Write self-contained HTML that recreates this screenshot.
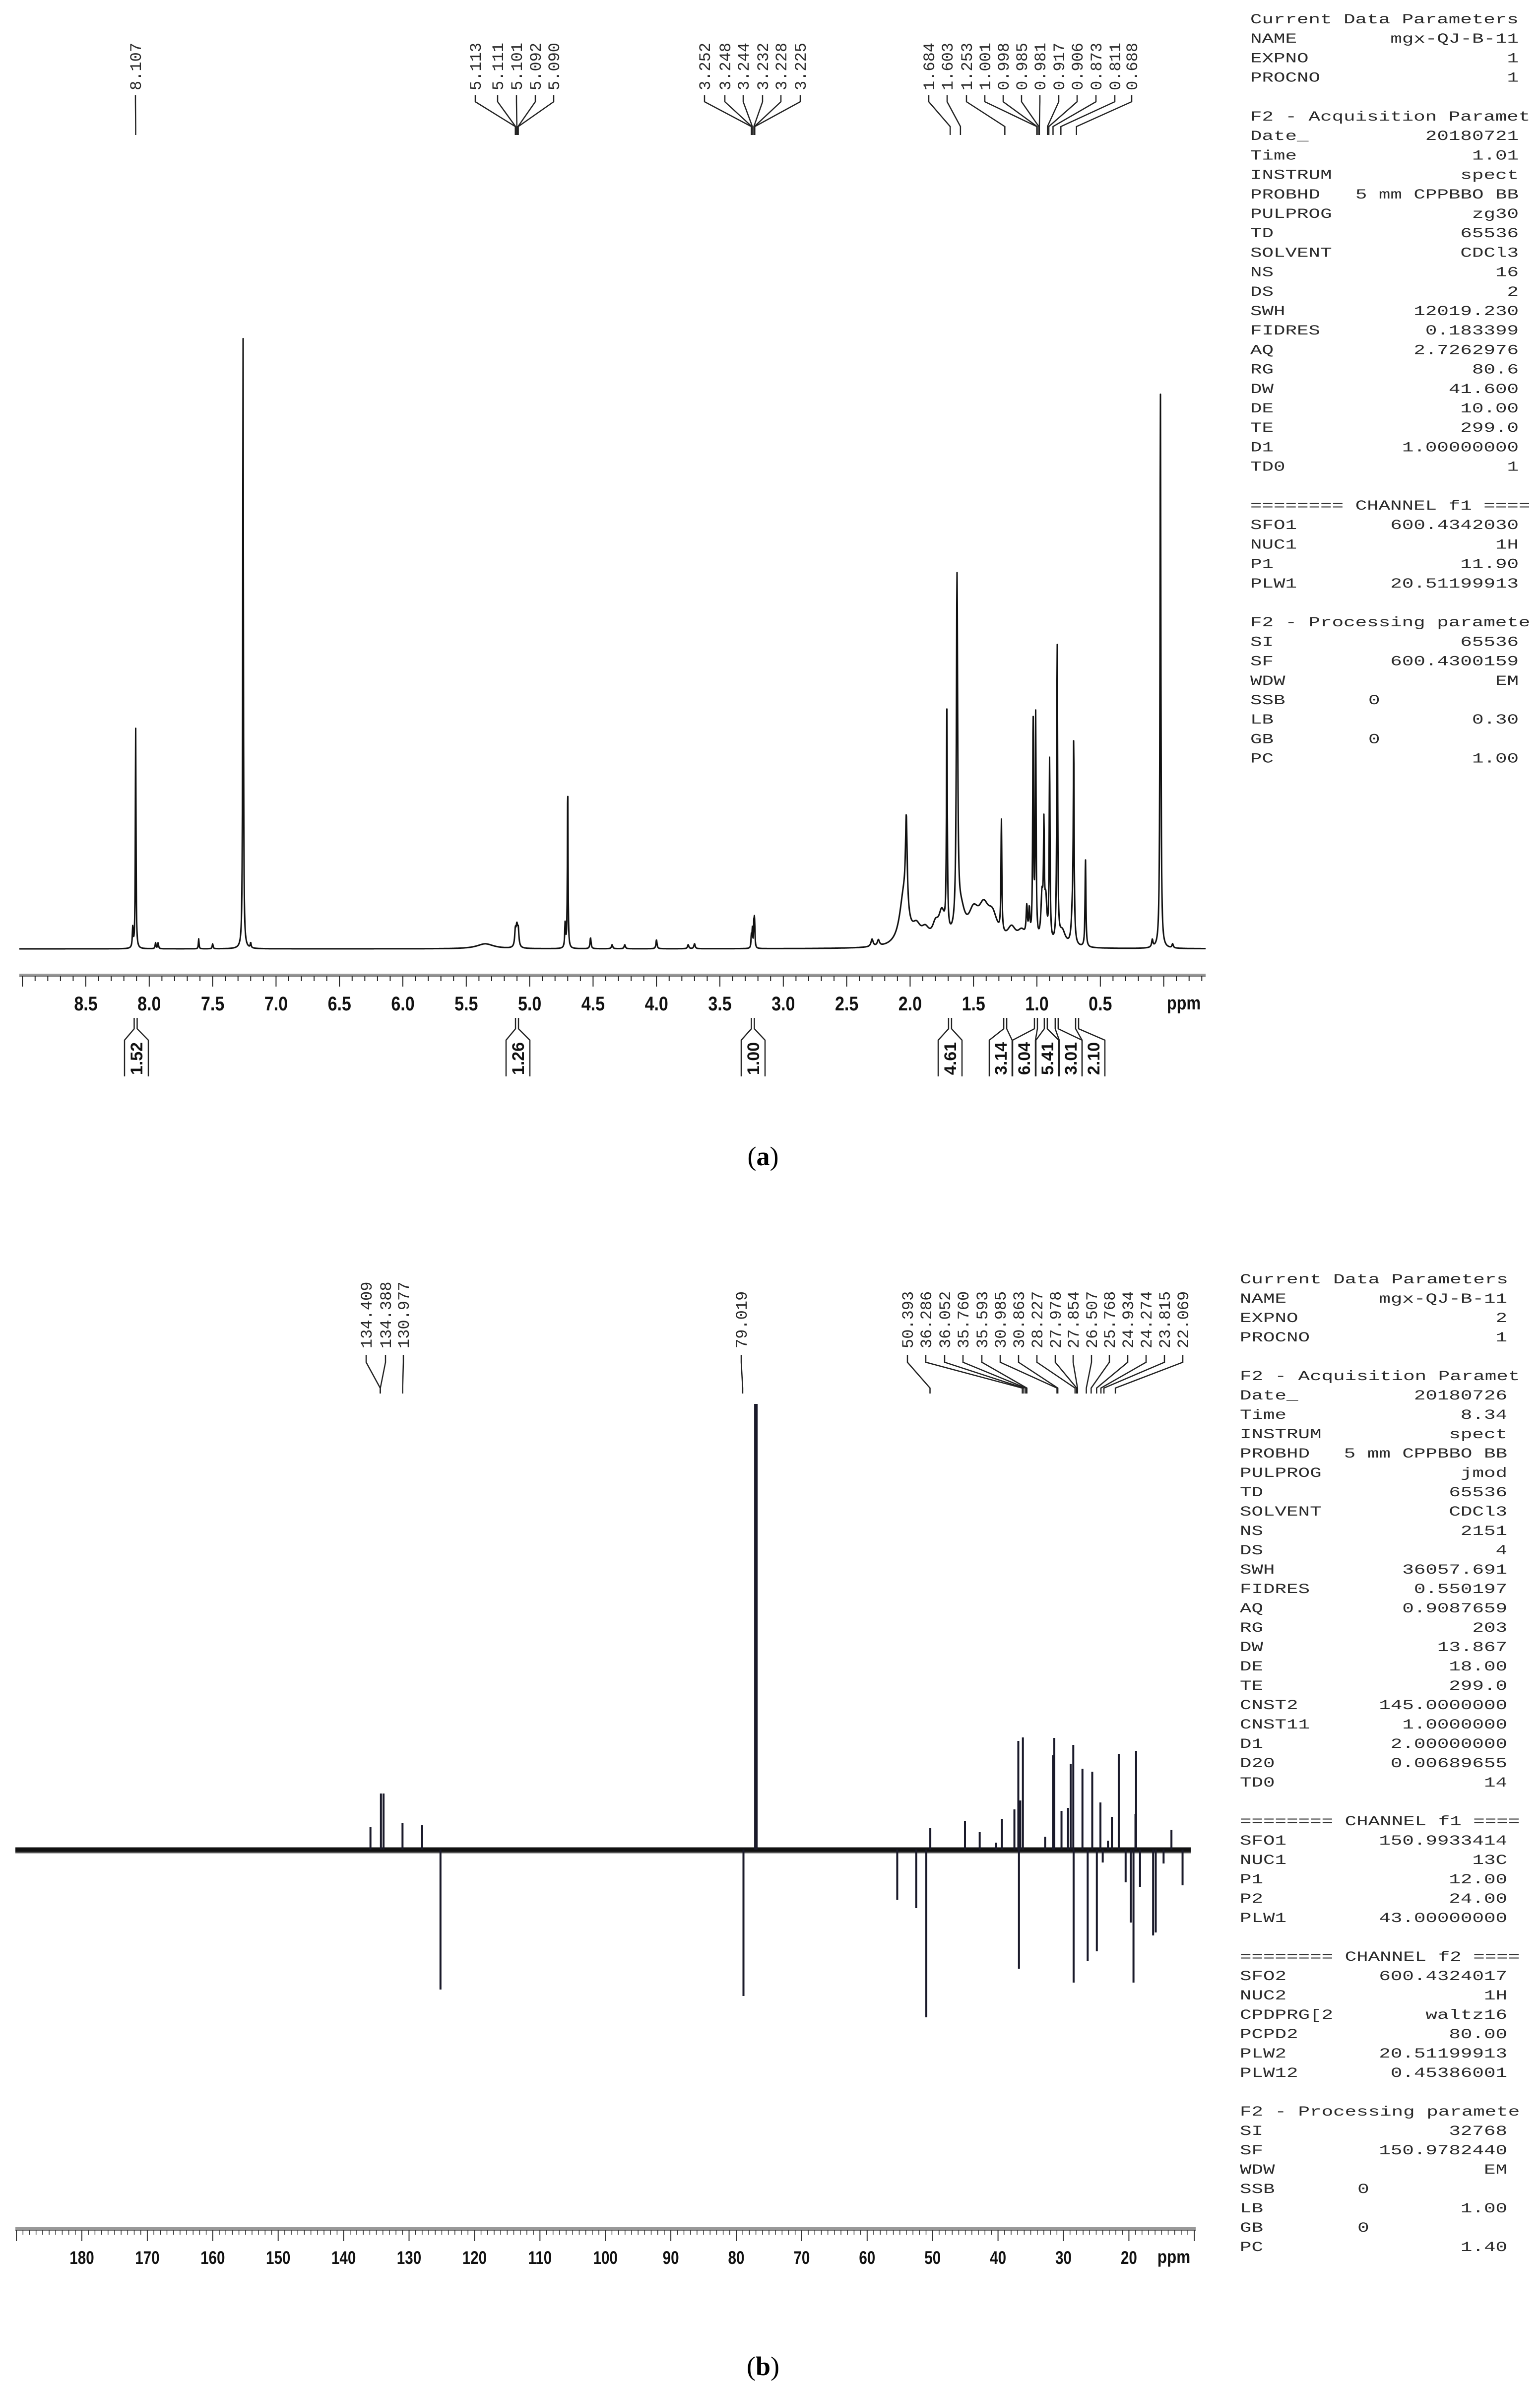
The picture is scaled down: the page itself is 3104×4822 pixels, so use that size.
<!DOCTYPE html>
<html><head><meta charset="utf-8">
<style>
html,body{margin:0;padding:0;background:#fff;}
svg{display:block;}
.mono{font-family:"Liberation Mono",monospace;fill:#2a2a2a;}
.tick{font-family:"Liberation Sans",sans-serif;font-weight:bold;fill:#111;}
</style></head>
<body>
<svg id="fig" xmlns="http://www.w3.org/2000/svg" width="3104" height="4822" viewBox="0 0 3104 4822">
<rect width="3104" height="4822" fill="#fff"/>
<g id="panelA"></g>
<g id="panelB"></g>
<text x="1538" y="2348" text-anchor="middle" font-family="Liberation Serif, serif" font-size="54" fill="#000">(<tspan font-weight="bold">a</tspan>)</text>
<text x="1538" y="4786" text-anchor="middle" font-family="Liberation Serif, serif" font-size="54" fill="#000">(<tspan font-weight="bold">b</tspan>)</text>
</svg>
<script>
// ---------- Panel A data (1H NMR) ----------
const hPeakPpm = [8.130,8.107,7.95,7.93,7.61,7.50,7.26,7.20,5.35,5.113,5.101,5.09,4.72,4.70,4.52,4.35,4.25,4.00,3.75,3.70,3.252,3.244,3.232,3.228,3.225,2.30,2.25,2.05,2.03,1.95,1.88,1.80,1.75,1.71,1.63,1.60,1.50,1.42,1.35,1.28,1.20,1.12,1.08,1.06,1.03,1.01,0.96,0.945,0.93,0.90,0.84,0.80,0.72,0.71,0.617,0.09,0.026,-0.07];
const hPeakHeight = [40,445,12,12,20,10,1236,10,10,30,40,30,50,330,22,8,8,18,8,10,25,38,40,38,25,15,12,100,180,30,25,30,55,440,700,60,55,60,50,226,30,25,60,55,445,450,90,207,80,365,601,30,60,387,177,15,1119,8];
const hPeakWidth = [0.004,0.003,0.004,0.004,0.003,0.004,0.003,0.004,0.08,0.006,0.008,0.006,0.004,0.003,0.005,0.006,0.006,0.005,0.006,0.006,0.003,0.003,0.003,0.003,0.003,0.01,0.01,0.04,0.008,0.04,0.04,0.03,0.03,0.004,0.006,0.04,0.05,0.05,0.05,0.004,0.04,0.04,0.006,0.006,0.004,0.004,0.01,0.004,0.01,0.004,0.004,0.03,0.01,0.004,0.004,0.006,0.004,0.006];
const hLabels = ["8.107","5.113","5.111","5.101","5.092","5.090","3.252","3.248","3.244","3.232","3.228","3.225","1.684","1.603","1.253","1.001","0.998","0.985","0.981","0.917","0.906","0.873","0.811","0.688"];
const hIntegralValues = ["1.52","1.26","1.00","4.61","3.14","6.04","5.41","3.01","2.10"];
const hIntegralPpm = [8.107,5.10,3.24,1.685,1.25,1.008,0.93,0.844,0.683];
const hTicks = [8.5,8.0,7.5,7.0,6.5,6.0,5.5,5.0,4.5,4.0,3.5,3.0,2.5,2.0,1.5,1.0,0.5];
const hTickLabels = ["8.5","8.0","7.5","7.0","6.5","6.0","5.5","5.0","4.5","4.0","3.5","3.0","2.5","2.0","1.5","1.0","0.5"];
const hParams = [["Current Data Parameters",""],["NAME","mgx-QJ-B-11"],["EXPNO","1"],["PROCNO","1"],null,["F2 - Acquisition Paramet",""],["Date_","20180721"],["Time","1.01"],["INSTRUM","spect"],["PROBHD","5 mm CPPBBO BB"],["PULPROG","zg30"],["TD","65536"],["SOLVENT","CDCl3"],["NS","16"],["DS","2"],["SWH","12019.230"],["FIDRES","0.183399"],["AQ","2.7262976"],["RG","80.6"],["DW","41.600"],["DE","10.00"],["TE","299.0"],["D1","1.00000000"],["TD0","1"],null,["======== CHANNEL f1 ====",""],["SFO1","600.4342030"],["NUC1","1H"],["P1","11.90"],["PLW1","20.51199913"],null,["F2 - Processing paramete",""],["SI","65536"],["SF","600.4300159"],["WDW","EM"],["SSB","0","mid"],["LB","0.30"],["GB","0","mid"],["PC","1.00"]];

// ---------- Panel B data (13C NMR) ----------
const cPeakPpm = [135.9,134.3,133.9,131.0,128.0,125.2,78.9,77.0,55.4,52.5,50.96,50.35,45.05,42.8,40.3,39.4,37.5,36.9,36.8,36.6,36.2,32.8,31.6,31.4,30.3,29.3,28.9,28.5,28.45,27.1,26.3,25.6,24.9,24.35,24.0,23.2,22.6,21.55,20.5,19.7,19.3,19.0,18.9,18.3,16.3,15.9,14.7,13.5,11.8];
const cPeakHeight = [46,113,113,54,49,-282,-295,898,-101,-118,-338,43,58,35,14,62,81,219,-240,99,226,26,190,225,78,84,173,211,-268,163,-225,157,-205,95,-26,18,66,193,-66,-147,-268,72,199,-75,-173,-167,-28,40,-72];
const cTicks = [180,170,160,150,140,130,120,110,100,90,80,70,60,50,40,30,20];
const cTickLabels = ["180","170","160","150","140","130","120","110","100","90","80","70","60","50","40","30","20"];
const cLabels = ["134.409","134.388","130.977","79.019","50.393","36.286","36.052","35.760","35.593","30.985","30.863","28.227","27.978","27.854","26.507","25.768","24.934","24.274","23.815","22.069"];
const cParams = [["Current Data Parameters",""],["NAME","mgx-QJ-B-11"],["EXPNO","2"],["PROCNO","1"],null,["F2 - Acquisition Paramet",""],["Date_","20180726"],["Time","8.34"],["INSTRUM","spect"],["PROBHD","5 mm CPPBBO BB"],["PULPROG","jmod"],["TD","65536"],["SOLVENT","CDCl3"],["NS","2151"],["DS","4"],["SWH","36057.691"],["FIDRES","0.550197"],["AQ","0.9087659"],["RG","203"],["DW","13.867"],["DE","18.00"],["TE","299.0"],["CNST2","145.0000000"],["CNST11","1.0000000"],["D1","2.00000000"],["D20","0.00689655"],["TD0","14"],null,["======== CHANNEL f1 ====",""],["SFO1","150.9933414"],["NUC1","13C"],["P1","12.00"],["P2","24.00"],["PLW1","43.00000000"],null,["======== CHANNEL f2 ====",""],["SFO2","600.4324017"],["NUC2","1H"],["CPDPRG[2","waltz16"],["PCPD2","80.00"],["PLW2","20.51199913"],["PLW12","0.45386001"],null,["F2 - Processing paramete",""],["SI","32768"],["SF","150.9782440"],["WDW","EM"],["SSB","0","mid"],["LB","1.00"],["GB","0","mid"],["PC","1.40"]];

const NS="http://www.w3.org/2000/svg";
function mk(tag, attrs, parent){const e=document.createElementNS(NS,tag);for(const k in attrs)e.setAttribute(k,attrs[k]);parent.appendChild(e);return e;}

// axis functions
const xA = p => 173 + (8.5 - p) * 255.6;
const baseA = 1912;
const yA = h => baseA - h;
const xB = p => 165 + (180 - p) * 13.19;
const baseB = 3727;
const yB = h => baseB - h;

function drawParams(g, rows, x0, xRight, y0, pitch, name){
  const grp = mk('g',{transform:`translate(${x0},0) scale(1.4,1)`},g);
  
  
  const rEnd = (xRight - x0)/1.4;
  rows.forEach((r,i)=>{
    if(!r) return;
    const y = y0 + i*pitch;
    const t = mk('text',{x:0,y:y,class:'mono','font-size':28},grp);
    
    
    t.textContent = r[0];
    if(r[1]!==''){
      const v = mk('text',{x:r[2]==='mid'? (rEnd*0.44):rEnd,y:y,class:'mono','font-size':28,'text-anchor':r[2]==='mid'?'start':'end'},grp);
      
      
      v.textContent = r[1];
    }
  });
}

function peakLabels(g, labels, ppmFn, xFn, labelX, yTextBottom, y1, y2, y3, y4, name){
  labels.forEach((s,i)=>{
    const lx = labelX[i];
    const t = mk('text',{transform:`translate(${lx},${yTextBottom}) rotate(-90)`,x:0,y:11,class:'mono','font-size':32},g);
    
    
    t.textContent = s;
    const px = xFn(parseFloat(s));
    const p = mk('path',{d:`M${lx} ${y1} L${lx} ${y2} L${px} ${y3} L${px} ${y4}`,fill:'none',stroke:'#222','stroke-width':2.5},g);
    
    
  });
}

// ---------- Panel A ----------
(function(){
  const g = document.getElementById('panelA');
  let pts=[];
  for(let x=39;x<=2430;x+=0.5){
    const p = 8.5 - (x-173)/255.6;
    let s=0;
    for(let i=0;i<hPeakPpm.length;i++){const d=(p-hPeakPpm[i])/hPeakWidth[i];s+=hPeakHeight[i]/(1+d*d);}
    pts.push(x.toFixed(1)+','+yA(s).toFixed(1));
  }
  const sp = mk('polyline',{points:pts.join(' '),fill:'none',stroke:'#111','stroke-width':3,'stroke-linejoin':'round'},g);
  
  
  const ax = mk('g',{},g);
  
  
  mk('rect',{x:39,y:1962,width:2391,height:5,fill:'#999'},ax);
  mk('line',{x1:39,y1:1967,x2:2430,y2:1967,stroke:'#444','stroke-width':1.5},ax);
  for(let k=-3;k<=90;k++){
    const p=k/10; const x=xA(p); if(x<39||x>2430) continue;
    const major = (k%5===0);
    mk('line',{x1:x,y1:1967,x2:x,y2:major?1988:1977,stroke:'#222','stroke-width':2},ax);
  }
  hTicks.forEach((p,i)=>{
    const t=mk('text',{x:xA(p),y:2036,'text-anchor':'middle',class:'tick','font-size':40,transform:`translate(${xA(p)},0) scale(0.85,1) translate(${-xA(p)},0)`},ax);
    
    
    t.textContent=hTickLabels[i];
  });
  const u=mk('text',{x:2386,y:2034,'text-anchor':'middle',class:'tick','font-size':38,transform:'translate(2386,0) scale(0.85,1) translate(-2386,0)'},ax);
  
  
  u.textContent='ppm';
  const lx = [273, 958,1003,1041,1079,1116, 1420,1461,1498,1537,1574,1613, 1872,1909,1948,1985,2022,2059,2096,2134,2171,2209,2247,2281];
  const pl = mk('g',{},g);
  
  
  peakLabels(pl, hLabels, null, xA, lx, 182, 192, 205, 255, 272, 'peak-shift-label');
  const boxC = [275,1044,1518,1915,2017,2064,2111,2158,2204];
  const ig = mk('g',{},g);
  
  
  hIntegralValues.forEach((v,i)=>{
    const bx = boxC[i], xs = xA(hIntegralPpm[i]);
    const hw = i>=4?23:24;
    const p=mk('path',{d:`M${bx-hw} 2169 L${bx-hw} 2096 L${xs-3} 2073 L${xs-3} 2051 M${xs+3} 2051 L${xs+3} 2073 L${bx+hw} 2096 L${bx+hw} 2169`,fill:'none',stroke:'#222','stroke-width':2.5},ig);
    
    
    const t=mk('text',{transform:`translate(${bx},2133) rotate(-90)`,x:0,y:12,'text-anchor':'middle',class:'tick','font-size':34},ig);
    
    
    t.textContent=v;
  });
  drawParams(g, hParams, 2520, 3061, 47, 39.2, 'h1-acquisition-parameters');
})();

// ---------- Panel B ----------
(function(){
  const g = document.getElementById('panelB');
  const bl = mk('line',{x1:31,y1:baseB,x2:2400,y2:baseB,stroke:'#111','stroke-width':9},g);
  
  
  const bl2 = mk('line',{x1:31,y1:baseB+6,x2:2400,y2:baseB+6,stroke:'#555','stroke-width':3},g);
  
  
  cPeakPpm.forEach((p,i)=>{
    const x = xB(p), h=cPeakHeight[i];
    const l = mk('line',{x1:x,y1:baseB,x2:x,y2:yB(h),stroke:'#1a1a2a','stroke-width':p===77.0?7:4},g);
    
    
  });
  const ax = mk('g',{},g);
  
  
  mk('rect',{x:31,y:4488,width:2379,height:6,fill:'#999'},ax);
  mk('line',{x1:31,y1:4494,x2:2410,y2:4494,stroke:'#444','stroke-width':1.5},ax);
  for(let p=190;p>=9;p--){
    const x=xB(p); if(x<31||x>2411) continue;
    const major=(p%10===0);
    mk('line',{x1:x,y1:4494,x2:x,y2:major?4516:4503,stroke:'#333','stroke-width':major?2:1.5},ax);
  }
  cTicks.forEach((p,i)=>{
    const t=mk('text',{x:xB(p),y:4562,'text-anchor':'middle',class:'tick','font-size':37,transform:`translate(${xB(p)},0) scale(0.8,1) translate(${-xB(p)},0)`},ax);
    
    
    t.textContent=cTickLabels[i];
  });
  const u=mk('text',{x:2366,y:4560,'text-anchor':'middle',class:'tick','font-size':37,transform:'translate(2366,0) scale(0.85,1) translate(-2366,0)'},ax);
  
  
  u.textContent='ppm';
  const lx=[738,777,813,1494,1829,1866,1904,1941,1979,2016,2053,2090,2127,2163,2200,2236,2273,2310,2347,2384];
  const pl = mk('g',{},g);
  
  
  peakLabels(pl, cLabels, null, xB, lx, 2717, 2730, 2745, 2797, 2808, 'peak-shift-label');
  drawParams(g, cParams, 2499, 3038, 2586, 39.0, 'c13-acquisition-parameters');
})();
</script>
</body></html>
